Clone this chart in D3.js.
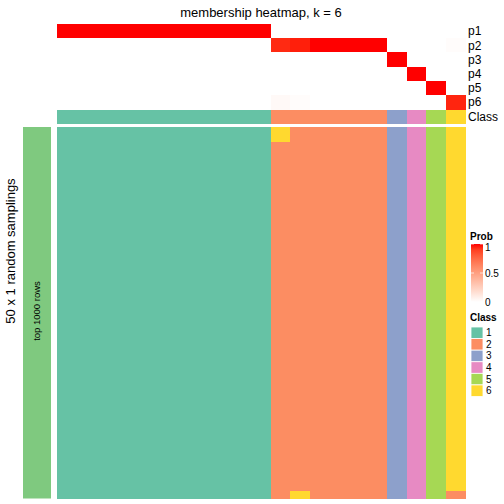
<!DOCTYPE html>
<html>
<head>
<meta charset="utf-8">
<script src="https://cdn.jsdelivr.net/npm/d3@7"></script>
<style>
html,body{margin:0;padding:0;background:#fff;}
svg{display:block;font-family:"Liberation Sans",Arial,sans-serif;}
</style>
</head>
<body>
<svg id="chart" width="504" height="504"></svg>
<script>
// ---- data ----
const columns = ["c1","c2","c3","c4","c5","c6","c7","c8","c9","c10","c11","c12","c13","c14","c15","c16","c17","c18","c19","c20","c21"];
const classOfColumn = [1,1,1,1,1,1,1,1,1,1,1,2,2,2,2,2,2,3,4,5,6];
const probNames = ["p1","p2","p3","p4","p5","p6"];
const p1 = [1,1,1,1,1,1,1,1,1,1,1,0,0,0,0,0,0,0,0,0,0];
const p2 = [0,0,0,0,0,0,0,0,0,0,0,0.95,0.97,1,1,1,1,0,0,0,0.015];
const p3 = [0,0,0,0,0,0,0,0,0,0,0,0,0,0,0,0,0,1,0,0,0];
const p4 = [0,0,0,0,0,0,0,0,0,0,0,0,0,0,0,0,0,0,1,0,0];
const p5 = [0,0,0,0,0,0,0,0,0,0,0,0,0,0,0,0,0,0,0,1,0];
const p6 = [0,0,0,0,0,0,0,0,0,0,0,0.03,0.015,0,0,0,0,0,0,0,0.96];
const nSamplings = 50;
// cells in the samplings matrix that differ from the column's consensus class
const exceptions = [
  {row:0, col:11, cls:6},
  {row:1, col:11, cls:6},
  {row:49, col:12, cls:6},
  {row:49, col:20, cls:2}
];
const classLabels = ["1","2","3","4","5","6"];
const classColors = ["#66C2A5","#FC8D62","#8DA0CB","#E78AC3","#A6D854","#FFD92F"];
const probTicks = [0, 0.5, 1];
const probTickLabels = ["0","0.5","1"];

// ---- build ----
const probs = [p1,p2,p3,p4,p5,p6];
const rows = d3.range(nSamplings);
const matrix = rows.map(r => classOfColumn.map(c => c));
exceptions.forEach(e => { matrix[e.row][e.col] = e.cls; });

const svg = d3.select("#chart");
const x = d3.scaleBand().domain(d3.range(columns.length)).range([57,465]);
const yTop = d3.scaleBand().domain(probNames).range([24,109.3]);
const yMain = d3.scaleBand().domain(rows).range([127,498.5]);
const classColor = d3.scaleOrdinal().domain(classLabels.map(Number)).range(classColors);
const probColor = d3.scaleLinear().domain([0,1]).range(["#FFFFFF","#FF0000"]).interpolate(d3.interpolateLab);

// title
svg.append("text").attr("x",261).attr("y",17).attr("text-anchor","middle")
  .attr("font-size",13).text("membership heatmap, k = 6");

// probability rows
const gp = svg.append("g").attr("shape-rendering","crispEdges");
probs.forEach((arr,i) => {
  gp.selectAll(null).data(arr).join("rect")
    .attr("x",(d,j)=>x(j)).attr("width",x.bandwidth()+0.5)
    .attr("y",yTop(probNames[i])).attr("height",yTop.bandwidth()+0.3)
    .attr("fill",d=>probColor(d));
});
// class row
gp.selectAll(null).data(classOfColumn).join("rect")
  .attr("x",(d,j)=>x(j)).attr("width",x.bandwidth()+0.5)
  .attr("y",110).attr("height",14)
  .attr("fill",d=>classColor(d));

// row labels
probNames.forEach(n => {
  svg.append("text").attr("x",468).attr("y",yTop(n)+yTop.bandwidth()/2).attr("dy","0.35em")
    .attr("font-size",12).text(n);
});
svg.append("text").attr("x",468).attr("y",117).attr("dy","0.35em").attr("font-size",12).text("Class");

// main matrix
const gm = svg.append("g").attr("shape-rendering","crispEdges");
matrix.forEach((rowArr,r) => {
  gm.selectAll(null).data(rowArr).join("rect")
    .attr("x",(d,j)=>x(j)).attr("width",x.bandwidth()+0.5)
    .attr("y",yMain(r)).attr("height",yMain.bandwidth()+0.5)
    .attr("fill",d=>classColor(d));
});

// left annotation bar
svg.append("rect").attr("x",23).attr("y",127).attr("width",28).attr("height",371.5).attr("fill","#7FC97F");
svg.append("text").attr("transform","translate(37,"+311+") rotate(-90)")
  .attr("text-anchor","middle").attr("dy","0.35em").attr("font-size",9.5).text("top 1000 rows");
svg.append("text").attr("transform","translate(10,"+251+") rotate(-90)")
  .attr("text-anchor","middle").attr("dy","0.35em").attr("font-size",13).text("50 x 1 random samplings");

// Prob legend
const lg = svg.append("g");
lg.append("text").attr("x",470).attr("y",240).attr("font-size",10).attr("font-weight","bold").text("Prob");
const defs = svg.append("defs");
const grad = defs.append("linearGradient").attr("id","pg").attr("x1",0).attr("y1",1).attr("x2",0).attr("y2",0);
d3.range(0,1.0001,0.1).forEach(t => grad.append("stop").attr("offset",t).attr("stop-color",probColor(t)));
const yLeg = d3.scaleLinear().domain([0,1]).range([302,244]);
lg.append("rect").attr("x",471).attr("y",yLeg(1)).attr("width",12).attr("height",yLeg(0)-yLeg(1)).attr("fill","url(#pg)");
probTicks.forEach((t,i) => {
  lg.append("line").attr("x1",471).attr("x2",474).attr("y1",yLeg(t)).attr("y2",yLeg(t)).attr("stroke","#fff").attr("stroke-width",0.7);
  lg.append("line").attr("x1",480).attr("x2",483).attr("y1",yLeg(t)).attr("y2",yLeg(t)).attr("stroke","#fff").attr("stroke-width",0.7);
  lg.append("text").attr("x",485).attr("y",Math.max(yLeg(t),247)).attr("dy","0.35em").attr("font-size",10).text(probTickLabels[i]);
});

// Class legend
lg.append("text").attr("x",470).attr("y",321).attr("font-size",10).attr("font-weight","bold").text("Class");
const yc = d3.scaleBand().domain(classLabels).range([327,396.5]);
classLabels.forEach((c,i) => {
  lg.append("rect").attr("x",471).attr("y",yc(c)).attr("width",12).attr("height",yc.bandwidth())
    .attr("fill",classColors[i]).attr("stroke","#fff").attr("stroke-width",0.8);
  lg.append("text").attr("x",486).attr("y",yc(c)+yc.bandwidth()/2).attr("dy","0.35em").attr("font-size",10).text(c);
});
</script>
</body>
</html>
